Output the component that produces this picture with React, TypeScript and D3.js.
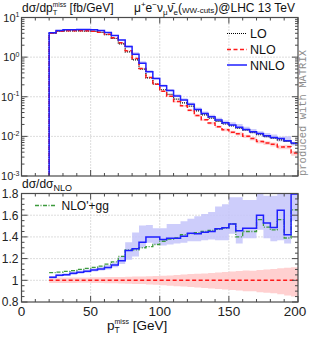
import * as d3 from "d3";

// bin lower edges (GeV), 5 GeV bins up to 200
const binLow = [20, 25, 30, 35, 40, 45, 50, 55, 60, 65, 70, 75, 80, 85, 90, 95, 100, 105, 110, 115,
  120, 125, 130, 135, 140, 145, 150, 155, 160, 165, 170, 175, 180, 185, 190, 195];
const binHigh = 200;

// dsigma/dpT^miss [fb/GeV]
const loXs = [3.95, 4.45, 4.6, 4.6, 4.6, 4.55, 4.45, 4.2, 3.7, 2.95, 2.15, 1.35, 0.85, 0.5, 0.3, 0.21,
  0.15, 0.115, 0.087, 0.07, 0.058, 0.044, 0.035, 0.029, 0.024, 0.0205, 0.0185, 0.0162, 0.0143, 0.0125,
  0.011, 0.0099, 0.009, 0.0082, 0.0075, 0.0066];
const nloXs = [3.99, 4.49, 4.66, 4.6, 4.66, 4.61, 4.47, 4.25, 3.76, 3.07, 2.29, 1.45, 0.92, 0.52, 0.307,
  0.207, 0.138, 0.103, 0.0757, 0.0591, 0.0454, 0.0336, 0.0263, 0.0217, 0.0176, 0.0148, 0.0128, 0.0117,
  0.0101, 0.0088, 0.0074, 0.0068, 0.0063, 0.0054, 0.0055, 0.0038];
const nnloXs = [4.1, 4.7, 4.9, 4.9, 5.0, 5.0, 4.9, 4.7, 4.2, 3.5, 2.7, 1.85, 1.19, 0.7, 0.43, 0.29, 0.19,
  0.143, 0.105, 0.083, 0.065, 0.048, 0.038, 0.0315, 0.026, 0.022, 0.0194, 0.017, 0.015, 0.013, 0.0119,
  0.0104, 0.0094, 0.0089, 0.0078, 0.0068];

// ratios to NLO
const nloRatioLo = [0.975, 0.976, 0.976, 0.976, 0.977, 0.977, 0.975, 0.975, 0.972, 0.972, 0.97, 0.968,
  0.966, 0.965, 0.962, 0.958, 0.955, 0.95, 0.946, 0.942, 0.938, 0.934, 0.93, 0.925, 0.92, 0.915, 0.91,
  0.905, 0.9, 0.898, 0.89, 0.885, 0.88, 0.872, 0.86, 0.85];
const nloRatioHi = [1.025, 1.025, 1.025, 1.025, 1.025, 1.025, 1.028, 1.028, 1.03, 1.03, 1.03, 1.032,
  1.034, 1.035, 1.037, 1.04, 1.042, 1.045, 1.05, 1.053, 1.057, 1.06, 1.063, 1.068, 1.072, 1.076, 1.08,
  1.085, 1.09, 1.088, 1.095, 1.1, 1.105, 1.11, 1.115, 1.12];
const nnloRatio = [1.028, 1.047, 1.052, 1.065, 1.074, 1.084, 1.096, 1.105, 1.117, 1.14, 1.18, 1.275,
  1.29, 1.35, 1.4, 1.4, 1.375, 1.387, 1.387, 1.405, 1.433, 1.43, 1.443, 1.45, 1.475, 1.484, 1.52, 1.456,
  1.48, 1.48, 1.6, 1.527, 1.487, 1.645, 1.42, 1.795];
const nnloRatioLo = [1.015, 1.035, 1.04, 1.05, 1.06, 1.07, 1.08, 1.09, 1.1, 1.12, 1.15, 1.19, 1.22, 1.3,
  1.345, 1.33, 1.32, 1.33, 1.34, 1.345, 1.36, 1.36, 1.37, 1.375, 1.37, 1.37, 1.43, 1.34, 1.387, 1.387,
  1.465, 1.387, 1.36, 1.37, 1.34, 1.55];
const nnloRatioHi = [1.04, 1.06, 1.065, 1.08, 1.09, 1.1, 1.11, 1.125, 1.14, 1.165, 1.215, 1.35, 1.44,
  1.505, 1.51, 1.48, 1.48, 1.52, 1.52, 1.545, 1.567, 1.59, 1.61, 1.63, 1.68, 1.7, 1.765, 1.765, 1.74,
  1.74, 1.82, 1.78, 1.78, 1.82, 1.82, 1.82];
const ggRatio = [1.07, 1.076, 1.083, 1.09, 1.1, 1.11, 1.12, 1.13, 1.15, 1.17, 1.22, 1.28, 1.28, 1.3,
  1.31, 1.33, 1.36, 1.38, 1.39, 1.42, 1.43, 1.44, 1.45, 1.46, 1.47, 1.48, 1.52, 1.4, 1.45, 1.45, 1.56,
  1.49, 1.465, 1.56, 1.39, 1.65];

const xTicks = [0, 50, 100, 150, 200];
const xTickLabels = ["0", "50", "100", "150", "200"];
const xGrid = [50, 100, 150];
const logTicks = [1e1, 1e0, 1e-1, 1e-2, 1e-3];
const logTickExp = ["1", "0", "-1", "-2", "-3"];
const ratioTicks = [0.8, 1, 1.2, 1.4, 1.6, 1.8];
const ratioTickLabels = ["0.8", "1", "1.2", "1.4", "1.6", "1.8"];

const W = 311, H = 340;
const L = 21.5, R = 298;
const TOP_T = 17.5, TOP_B = 176;
const RAT_T = 193.5, RAT_B = 302;

const FONT = "Liberation Sans, Arial, Helvetica, sans-serif";
const AXIS = "#4a4a4a";
const GRID = "#aaaaaa";
const BLUE = "#1f1fff";
const RED = "#ff1a1a";
const GREEN = "#3c9a3c";

type Pt = [number, number];
type Band = [number, number, number];

const x = d3.scaleLinear().domain([0, 200]).range([L, R]);
const yTop = d3.scaleLog().domain([1e-3, 1e1]).range([TOP_B, TOP_T]);
const yRat = d3.scaleLinear().domain([0.8, 1.8]).range([RAT_B, RAT_T]);

function steps(vals: number[]): Pt[] {
  const pts: Pt[] = binLow.map((b, i) => [b, vals[i]]);
  pts.push([binHigh, vals[vals.length - 1]]);
  return pts;
}

function bandSteps(lo: number[], hi: number[]): Band[] {
  const pts: Band[] = binLow.map((b, i) => [b, lo[i], hi[i]]);
  pts.push([binHigh, lo[lo.length - 1], hi[hi.length - 1]]);
  return pts;
}

function Ticks({ top, bottom, yTicksMajor, yTicksMinor, y }: {
  top: number; bottom: number; yTicksMajor: number[]; yTicksMinor: number[]; y: (v: number) => number;
}) {
  const xMinor = d3.range(10, 200, 10).filter(v => v % 50 !== 0);
  const els: JSX.Element[] = [];
  xTicks.forEach((v, i) => {
    els.push(<line key={"xb" + i} x1={x(v)} x2={x(v)} y1={bottom} y2={bottom - 6} />);
    els.push(<line key={"xt" + i} x1={x(v)} x2={x(v)} y1={top} y2={top + 6} />);
  });
  xMinor.forEach((v, i) => {
    els.push(<line key={"xmb" + i} x1={x(v)} x2={x(v)} y1={bottom} y2={bottom - 3} />);
    els.push(<line key={"xmt" + i} x1={x(v)} x2={x(v)} y1={top} y2={top + 3} />);
  });
  yTicksMajor.forEach((v, i) => {
    els.push(<line key={"yl" + i} x1={L} x2={L + 6} y1={y(v)} y2={y(v)} />);
    els.push(<line key={"yr" + i} x1={R} x2={R - 6} y1={y(v)} y2={y(v)} />);
  });
  yTicksMinor.forEach((v, i) => {
    els.push(<line key={"yml" + i} x1={L} x2={L + 3} y1={y(v)} y2={y(v)} />);
    els.push(<line key={"ymr" + i} x1={R} x2={R - 3} y1={y(v)} y2={y(v)} />);
  });
  return <g stroke={AXIS} strokeWidth={1}>{els}</g>;
}

export default function App() {
  const lineTop = d3.line<Pt>().x(d => x(d[0])).y(d => yTop(d[1])).curve(d3.curveStepAfter);
  const lineRat = d3.line<Pt>().x(d => x(d[0])).y(d => yRat(d[1])).curve(d3.curveStepAfter);
  const areaTop = d3.area<Band>().x(d => x(d[0])).y0(d => yTop(d[1])).y1(d => yTop(d[2])).curve(d3.curveStepAfter);
  const areaRat = d3.area<Band>().x(d => x(d[0])).y0(d => yRat(d[1])).y1(d => yRat(d[2])).curve(d3.curveStepAfter);

  // histogram lines rise from the bottom of the log panel at the first bin edge
  const withDrop = (vals: number[]): Pt[] => [[binLow[0], 1e-3], ...steps(vals)];

  const nnloTopLo = nloXs.map((v, i) => v * nnloRatioLo[i]);
  const nnloTopHi = nloXs.map((v, i) => v * nnloRatioHi[i]);
  const nloTopLo = nloXs.map((v, i) => v * nloRatioLo[i]);
  const nloTopHi = nloXs.map((v, i) => v * nloRatioHi[i]);
  const ones = nloXs.map(v => v / v);

  const logMinor = [1e-3, 1e-2, 1e-1, 1e0].flatMap(d => d3.range(2, 10).map(k => k * d));
  const ratMinor = d3.range(17, 36).filter(k => k % 4 !== 0).map(k => k * 0.05);

  return (
    <svg width={W} height={H} style={{ position: "absolute", left: 0, top: 0, background: "#fff" }}
      fontFamily={FONT}>
      <defs>
        <clipPath id="clipTop"><rect x={L} y={TOP_T} width={R - L} height={TOP_B - TOP_T} /></clipPath>
        <clipPath id="clipRat"><rect x={L} y={RAT_T} width={R - L} height={RAT_B - RAT_T} /></clipPath>
      </defs>

      {/* ---------- top panel ---------- */}
      <g stroke={GRID} strokeDasharray="1,2" strokeWidth={0.8}>
        {xGrid.map(v => <line key={v} x1={x(v)} x2={x(v)} y1={TOP_T} y2={TOP_B} />)}
        {[1e0, 1e-1, 1e-2].map(v => <line key={v} x1={L} x2={R} y1={yTop(v)} y2={yTop(v)} />)}
      </g>
      <g clipPath="url(#clipTop)">
        <path d={areaTop(bandSteps(nloTopLo, nloTopHi)) ?? ""} fill="#ffc8c8" opacity={0.8} />
        <path d={areaTop(bandSteps(nnloTopLo, nnloTopHi)) ?? ""} fill="#c4c4fa" opacity={0.85} />
        <path d={lineTop(withDrop(loXs)) ?? ""} fill="none" stroke="#000" strokeWidth={1.2} strokeDasharray="1,1" />
        <path d={lineTop(withDrop(nloXs)) ?? ""} fill="none" stroke={RED} strokeWidth={1.5} strokeDasharray="4,2.5" />
        <path d={lineTop(withDrop(nnloXs)) ?? ""} fill="none" stroke={BLUE} strokeWidth={1.5} />
      </g>
      <Ticks top={TOP_T} bottom={TOP_B} yTicksMajor={logTicks} yTicksMinor={logMinor} y={v => yTop(v)} />
      <rect x={L} y={TOP_T} width={R - L} height={TOP_B - TOP_T} fill="none" stroke={AXIS} strokeWidth={1.2} />
      {logTicks.map((v, i) => (
        <text key={v} x={19.5} y={yTop(v) + 4} fontSize={11} textAnchor="end" fill="#222">
          10<tspan fontSize={7} dy={-4.5}>{logTickExp[i]}</tspan>
        </text>
      ))}

      {/* legend */}
      {[
        { label: "LO", color: "#000", dash: "1,1", w: 1.2, y: 33.5 },
        { label: "NLO", color: RED, dash: "4,2.5", w: 1.5, y: 49.5 },
        { label: "NNLO", color: BLUE, dash: undefined, w: 1.5, y: 65 },
      ].map(e => (
        <g key={e.label}>
          <line x1={227} x2={247} y1={e.y} y2={e.y} stroke={e.color} strokeWidth={e.w} strokeDasharray={e.dash} />
          <text x={250} y={e.y + 4.5} fontSize={12.5} fill="#111">{e.label}</text>
        </g>
      ))}

      {/* titles */}
      <text x={22} y={12} fontSize={12} fill="#111">
        dσ/dp<tspan fontSize={7.5} dy={3}>T</tspan><tspan fontSize={6.5} dx={-4.5} dy={-8}>miss</tspan>
        <tspan dy={5}> [fb/GeV]</tspan>
      </text>
      <text x={295} y={12} fontSize={12} textAnchor="end" fill="#111">
        μ<tspan fontSize={8} dy={-5}>+</tspan><tspan dy={5}>e</tspan><tspan fontSize={8} dy={-5}>−</tspan>
        <tspan dy={5}>ν</tspan><tspan fontSize={8} dy={3}>μ</tspan><tspan dy={-3}>ν̄</tspan>
        <tspan fontSize={8} dy={3}>e</tspan><tspan dy={-3}>(</tspan><tspan fontSize={8} dy={1}>WW-cuts</tspan>
        <tspan dy={-1}>)@LHC 13 TeV</tspan>
      </text>

      {/* side credit */}
      <text transform="translate(306,113) rotate(-90)" textAnchor="middle" fontSize={10.5}
        fontFamily="Liberation Mono, DejaVu Sans Mono, monospace" fill="#8c8c8c">produced with MATRIX</text>

      {/* ---------- ratio panel ---------- */}
      <g stroke={GRID} strokeDasharray="1,2" strokeWidth={0.8}>
        {xGrid.map(v => <line key={v} x1={x(v)} x2={x(v)} y1={RAT_T} y2={RAT_B} />)}
        {[1.0, 1.2, 1.4, 1.6].map(v => <line key={v} x1={L} x2={R} y1={yRat(v)} y2={yRat(v)} />)}
      </g>
      <g clipPath="url(#clipRat)">
        <path d={areaRat(bandSteps(nloRatioLo, nloRatioHi)) ?? ""} fill="#ffc8c8" opacity={0.85} />
        <path d={areaRat(bandSteps(nnloRatioLo, nnloRatioHi)) ?? ""} fill="#c4c4fa" opacity={0.85} />
        <path d={lineRat(steps(ones)) ?? ""} fill="none" stroke={RED} strokeWidth={1.5} strokeDasharray="4,2.5" />
        <path d={lineRat(steps(ggRatio)) ?? ""} fill="none" stroke={GREEN} strokeWidth={1.3} strokeDasharray="4,1.5,1,1.5" />
        <path d={lineRat(steps(nnloRatio)) ?? ""} fill="none" stroke={BLUE} strokeWidth={1.5} />
      </g>
      <Ticks top={RAT_T} bottom={RAT_B} yTicksMajor={ratioTicks} yTicksMinor={ratMinor} y={v => yRat(v)} />
      <rect x={L} y={RAT_T} width={R - L} height={RAT_B - RAT_T} fill="none" stroke={AXIS} strokeWidth={1.2} />
      {ratioTicks.map((v, i) => (
        <text key={v} x={18.5} y={yRat(v) + 4.3} fontSize={12} textAnchor="end" fill="#222">{ratioTickLabels[i]}</text>
      ))}
      <text x={22} y={188} fontSize={12} fill="#111">
        dσ/dσ<tspan fontSize={9} dy={3}>NLO</tspan>
      </text>
      <line x1={35} x2={55} y1={205.5} y2={205.5} stroke={GREEN} strokeWidth={1.3} strokeDasharray="4,1.5,1,1.5" />
      <text x={61.5} y={210} fontSize={12} fill="#111">NLO'+gg</text>

      {/* x axis labels */}
      {xTicks.map((v, i) => (
        <text key={v} x={x(v) - (v === 200 ? 3 : 0)} y={316} fontSize={13.5} textAnchor="middle" fill="#222">
          {xTickLabels[i]}
        </text>
      ))}
      <text x={107} y={330} fontSize={13.5} fill="#111">
        p<tspan fontSize={8.5} dy={3}>T</tspan><tspan fontSize={7} dx={-5.2} dy={-9}>miss</tspan>
        <tspan dy={6}> [GeV]</tspan>
      </text>
    </svg>
  );
}
